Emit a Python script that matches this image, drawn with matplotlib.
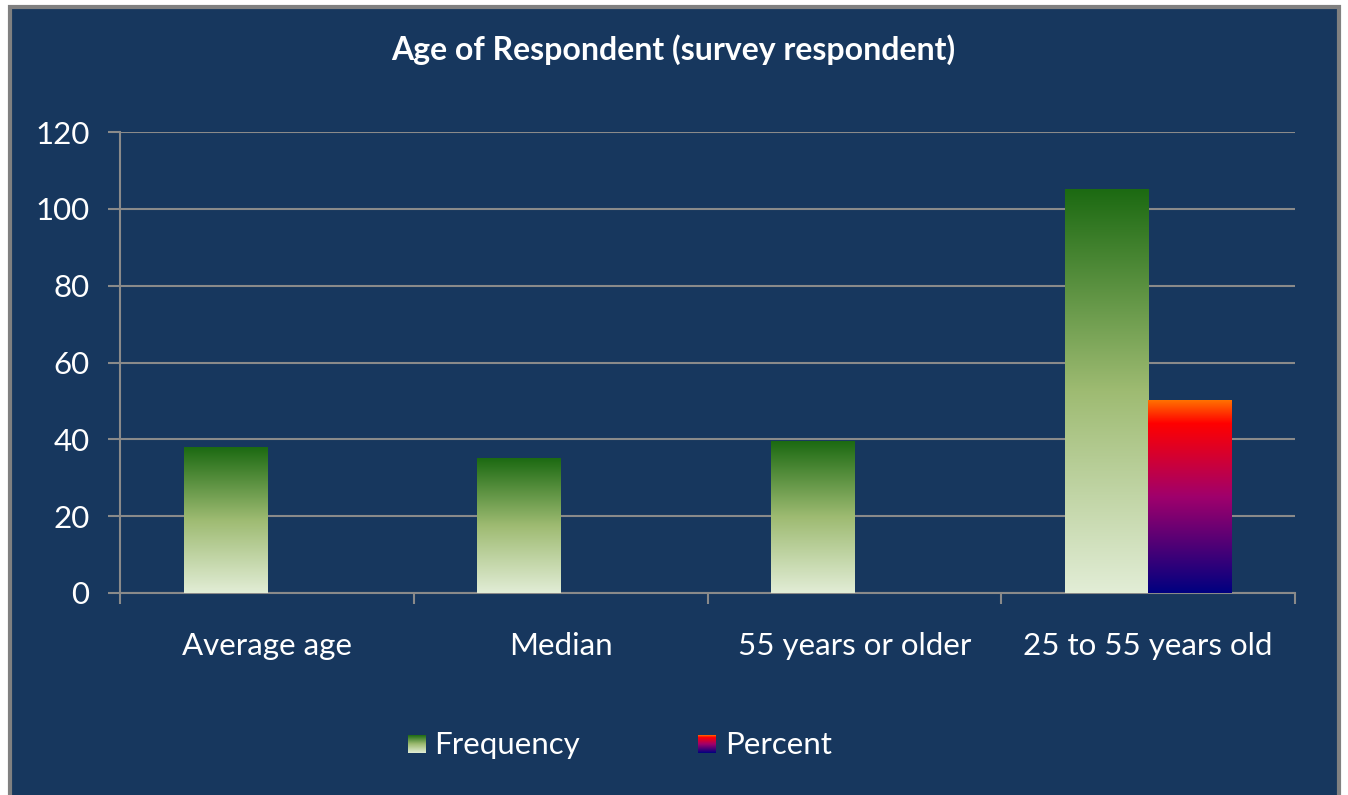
import numpy as np
import matplotlib
matplotlib.use('Agg')
import matplotlib.pyplot as plt
import matplotlib.patches as patch
from matplotlib.colors import LinearSegmentedColormap

categories = ['Average age', 'Median', '55 years or older', '25 to 55 years old']
frequency = [38, 35, 39.5, 105]
percent = [0, 0, 0, 50]
series_names = ['Frequency', 'Percent']
yticks = [0, 20, 40, 60, 80, 100, 120]

navy = '#17375e'
grid = '#8a8a8a'
green = LinearSegmentedColormap.from_list(
    'green', [(0, '#e2edd6'), (0.5, '#9ebb72'), (1, '#1c6a12')])
hot = LinearSegmentedColormap.from_list(
    'hot', [(0, '#000080'), (0.5, '#a0006c'), (0.88, '#ff0000'), (1, '#ff7000')])

plt.rcParams['font.family'] = ['Lato', 'DejaVu Sans']

fig = plt.figure(figsize=(13.48, 7.95), dpi=100, facecolor='white')
# dark panel behind everything
bg = patch.Rectangle((10 / 1348, -0.01), 1329 / 1348, 1.01 - 7 / 795,
                     transform=fig.transFigure, facecolor=navy,
                     edgecolor='#808080', linewidth=3, zorder=-10)
fig.patches.append(bg)

ax = fig.add_axes([120 / 1348, 1 - 593 / 795, 1175 / 1348, 461 / 795])
ax.set_facecolor('none')

x = np.arange(len(categories))
width = 0.283
bars_f = ax.bar(x - width / 2, frequency, width, color='none', zorder=3)
bars_p = ax.bar(x + width / 2, percent, width, color='none', zorder=3)

grad = np.linspace(0, 1, 256).reshape(-1, 1)
for bars, cmap in ((bars_f, green), (bars_p, hot)):
    for b in bars:
        h = b.get_height()
        if h <= 0:
            continue
        x0 = b.get_x()
        ax.imshow(grad, cmap=cmap, origin='lower', aspect='auto',
                  extent=[x0, x0 + b.get_width(), 0, h], zorder=3)

ax.set_xlim(-0.5, len(categories) - 0.5)
ax.set_ylim(0, 120)
ax.set_yticks(yticks)
ax.yaxis.grid(True, color=grid, linewidth=1.5, zorder=0)
ax.set_axisbelow(True)
for s in ['top', 'right']:
    ax.spines[s].set_visible(False)
for s in ['left', 'bottom']:
    ax.spines[s].set_color(grid)
    ax.spines[s].set_linewidth(1.5)
ax.tick_params(axis='y', colors=grid, labelcolor='white', labelsize=22.5,
               length=9, width=1.5, pad=13)
ax.set_xticks(x)
ax.set_xticklabels(categories)
ax.set_xticks(np.arange(len(categories) + 1) - 0.5, minor=True)
ax.tick_params(axis='x', which='major', length=0, labelcolor='white',
               labelsize=22.5, pad=28)
ax.tick_params(axis='x', which='minor', length=8, width=1.5, color=grid)

fig.text(673 / 1348, 1 - 50 / 795, 'Age of Respondent (survey respondent)',
         color='white', fontsize=23, fontweight='bold', ha='center', va='center')

# legend with gradient swatches
for name, cmap, sx, tx in ((series_names[0], green, 408, 434),
                           (series_names[1], hot, 698, 725)):
    sw = fig.add_axes([sx / 1348, 1 - 753 / 795, 18 / 1348, 18 / 795])
    sw.imshow(grad, cmap=cmap, origin='lower', aspect='auto')
    sw.axis('off')
    fig.text(tx / 1348, 1 - 745 / 795, name, color='white', fontsize=22.5,
             ha='left', va='center')

fig.savefig('out.png', dpi=100, facecolor='white')
